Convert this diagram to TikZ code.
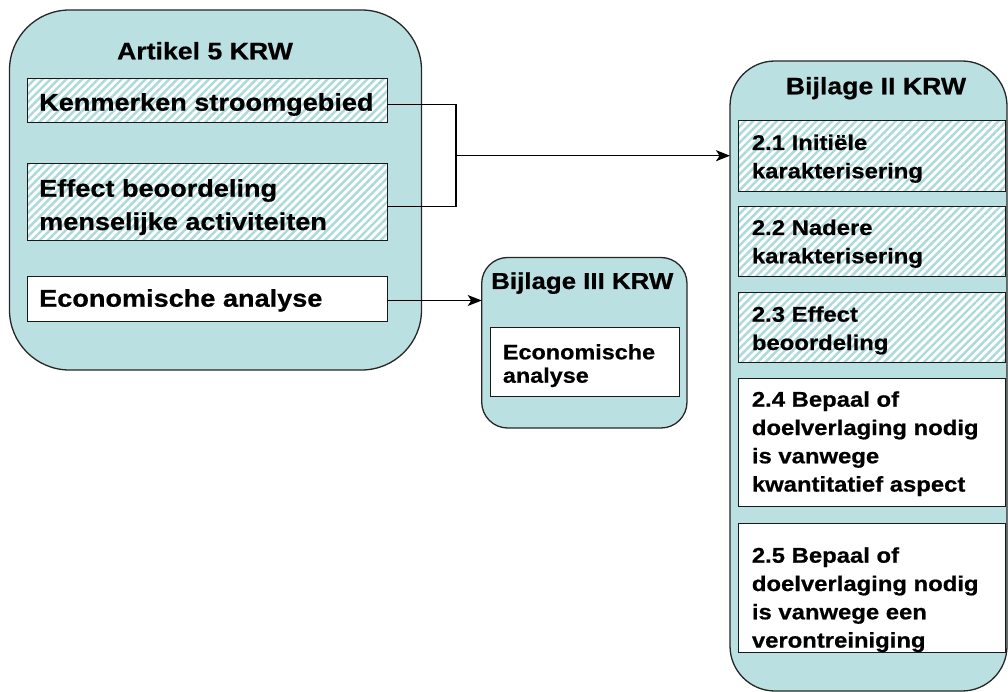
\documentclass[tikz,border=0pt]{standalone}
\usepackage{fontspec}
\setmainfont{Liberation Sans}[FakeStretch=1.12, BoldFeatures={FakeBold=0.6}]
\usetikzlibrary{arrows.meta,patterns.meta,calc}
\definecolor{tealfill}{RGB}{187,224,226}
\definecolor{hatchc}{RGB}{172,217,219}
\newcommand{\mlines}[1]{\begin{tabular}[t]{@{}l@{}}#1\end{tabular}}
\tikzset{
  group/.style={draw=black!85, line width=1.3pt, fill=tealfill, inner sep=0pt, outer sep=0pt},
  hbox/.style={draw=black!90, line width=1pt, preaction={fill=white},
    pattern={Lines[angle=45,distance=5.6pt,line width=2.4pt]}, pattern color=hatchc,
    inner sep=0pt, outer sep=0pt},
  wbox/.style={draw=black!90, line width=1pt, fill=white, inner sep=0pt, outer sep=0pt},
  bigtxt/.style={anchor=base west, inner sep=0pt, font=\bfseries\fontsize{24.2}{33.3}\selectfont},
  smalltxt/.style={anchor=base west, inner sep=0pt, font=\bfseries\fontsize{21.3}{28.3}\selectfont},
  ttl/.style={anchor=base, inner sep=0pt, font=\bfseries\fontsize{23.8}{28}\selectfont},
  link/.style={line width=1.4pt, draw=black},
  tip/.style={-{Stealth[length=14pt,width=11pt,inset=3.5pt]}}
}
\begin{document}
\begin{tikzpicture}[x=1pt,y=-1pt]
\useasboundingbox (0,0) rectangle (1008,692);
% Artikel 5 group
\node[group, rounded corners=60pt, minimum width=412pt, minimum height=360pt] (A) at (215.5,190) {};
\node[ttl] (At) at (205,59.3) {Artikel 5 KRW};
\node[hbox, minimum width=360pt, minimum height=44pt] (K) at (207,101) {};
\node[hbox, minimum width=360pt, minimum height=77pt] (E) at (207,202.5) {};
\node[wbox, minimum width=360pt, minimum height=44pt] (Ec) at (207,299) {};
\node[bigtxt] (Kt) at (39,110.7) {Kenmerken stroomgebied};
\node[bigtxt] (Et) at (39,196.7) {\mlines{Effect beoordeling\\menselijke activiteiten}};
\node[bigtxt] (Ect) at (39,306.7) {Economische analyse};
% Bijlage III group
\node[group, rounded corners=26pt, minimum width=205.3pt, minimum height=170.5pt] (B3) at (584.35,342.75) {};
\node[ttl, font=\bfseries\fontsize{23.1}{28}\selectfont] (B3t) at (582.3,289) {Bijlage III KRW};
\node[wbox, minimum width=188.3pt, minimum height=69.7pt] (B3e) at (584.85,361.85) {};
\node[smalltxt, font=\bfseries\fontsize{20.9}{23.4}\selectfont] (B3et) at (502.7,359.3) {\mlines{Economische\\analyse}};
% Bijlage II group
\node[group, rounded corners=45pt, minimum width=277pt, minimum height=630pt] (C) at (868.5,376) {};
\node[ttl] (Ct) at (876,94.3) {Bijlage II KRW};
\node[hbox, minimum width=266.7pt, minimum height=70.7pt] (C1) at (871.65,156.35) {};
\node[hbox, minimum width=266.7pt, minimum height=70pt] (C2) at (871.65,241.7) {};
\node[hbox, minimum width=266.7pt, minimum height=70pt] (C3) at (871.65,327.3) {};
\node[wbox, minimum width=266.7pt, minimum height=127.7pt] (C4) at (871.65,442.15) {};
\node[wbox, minimum width=266.7pt, minimum height=129.4pt] (C5) at (871.65,588) {};
\node[smalltxt] (C1t) at (751.7,150) {\mlines{2.1 Initiële\\karakterisering}};
\node[smalltxt] (C2t) at (751.7,235) {\mlines{2.2 Nadere\\karakterisering}};
\node[smalltxt] (C3t) at (751.7,321.7) {\mlines{2.3 Effect\\beoordeling}};
\node[smalltxt] (C4t) at (751.7,406.7) {\mlines{2.4 Bepaal of\\doelverlaging nodig\\is vanwege\\kwantitatief aspect}};
\node[smalltxt] (C5t) at (751.7,562.7) {\mlines{2.5 Bepaal of\\doelverlaging nodig\\is vanwege een\\verontreiniging}};
% connectors
\coordinate (J) at (456,155.7);
\draw[link] ([yshift=-3.3pt]K.east) -| (J);
\draw[link] ([yshift=-4.2pt]E.east) -| (J);
\draw[link, tip] (J) -- (J -| C.west);
\draw[link, tip] ([yshift=-1.5pt]Ec.east) -- ([yshift=-1.5pt]Ec.east -| B3.west);
\end{tikzpicture}
\end{document}
